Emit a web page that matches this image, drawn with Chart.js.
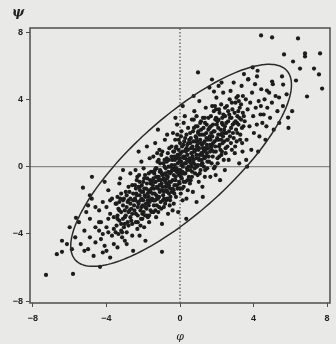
<!DOCTYPE html>
<html>
<head>
  <meta charset="UTF-8">
  <title>Scatter</title>
  <script src="https://cdn.jsdelivr.net/npm/chart.js"></script>
  <style>
    html, body { margin: 0; padding: 0; background: #e9e9e7; }
    canvas { display: block; }
  </style>
</head>
<body>
  <canvas id="grafico" width="336" height="344"></canvas>

  <script>
    const xTicks = [-8, -4, 0, 4, 8];
    const yTicks = [-8, -4, 0, 4, 8];
    const xLabel = 'φ', yLabel = 'ψ';

    // ellipse: centre, semi-axes, angle (data units / degrees)
    const ellCentre = [0.06, 0.08];
    const ellAxes = [8.05, 2.7];
    const ellAngle = 45;

    // points outside / near the ellipse edge
    const outerPts = [
      [4.41,7.80],[5.01,7.68],[6.42,7.62],[5.66,6.67],[6.80,6.73],[6.80,6.55],[7.62,6.73],[6.15,6.25],
      [6.53,5.83],[7.29,5.83],[7.56,5.48],[6.31,5.12],[7.73,4.64],[6.91,4.17],[5.88,2.92],[5.39,4.11],
      [4.73,4.52],[5.01,5.06],[5.55,5.36],[5.61,4.88],[4.19,5.36],[3.70,5.18],[0.98,5.6],[1.74,5.18],
      [1.85,4.46],[2.1,4.8],[3.65,0.0],
      [-7.29,-6.43],[-5.82,-6.37],[-6.42,-4.40],[-6.42,-5.06],[-6.15,-4.6],[-5.88,-4.9],[-6.7,-5.2],
      [-4.79,-0.6],[-5.28,-1.25],[-4.9,-1.7],[-5.0,-2.3],[-5.66,-3.04],[-0.98,-5.06],[-4.35,-5.95],
      [-6.0,-3.6],[-5.7,-4.2]
    ];

    // x below -1.5
    const lowPts = [
      [-5.4,-4.6],[-5.2,-3.8],[-5.0,-4.9],[-4.9,-3.1],[-4.7,-5.3],[-4.6,-2.4],[-5.1,-2.7],[-4.9,-4.2],
      [-5.5,-3.3],[-4.6,-3.6],[-5.2,-5.0],[-4.8,-1.9],[-4.6,-4.5],
      [-4.4,-3.3],[-4.3,-3.3],[-4.2,-2.1],[-4.1,-4.7],[-4.0,-3.6],[-3.9,-1.4],[-3.8,-2.8],[-3.7,-4.1],
      [-3.6,-3.0],[-4.4,-2.6],[-4.3,-4.3],[-4.2,-5.1],[-4.0,-2.4],[-3.9,-3.9],[-3.8,-5.4],[-3.7,-1.9],
      [-3.6,-4.6],[-4.1,-0.9],[-3.5,-2.2],[-4.4,-3.8],[-3.9,-3.1],[-3.6,-3.7],[-4.2,-4.0],[-3.8,-2.0],[-4.0,-5.0],
      [-3.4,-2.9],[-3.3,-1.0],[-3.2,-3.8],[-3.1,-2.3],[-3.0,-4.4],[-2.9,-1.7],[-2.8,-2.7],[-2.7,-0.4],
      [-2.6,-3.4],[-3.4,-4.8],[-3.3,-2.1],[-3.2,-1.6],[-3.1,-3.1],[-3.0,-2.6],[-2.9,-3.9],[-2.8,-1.2],
      [-2.7,-2.2],[-2.6,-4.1],[-3.45,-3.5],[-3.35,-2.5],[-3.25,-0.7],[-3.15,-4.2],[-3.05,-1.9],[-2.95,-2.9],
      [-2.85,-3.3],[-2.75,-1.5],[-2.65,-2.5],[-2.55,-5.0],[-3.4,-1.8],[-3.2,-2.7],[-3.0,-3.4],[-2.8,-2.0],
      [-2.6,-1.1],[-3.1,-0.2],[-2.9,-4.6],[-2.7,-3.0],[-3.3,-3.2],[-2.55,-2.0],
      [-2.45,-1.9],[-2.4,-3.3],[-2.35,-0.8],[-2.3,-2.4],[-2.25,-1.2],[-2.2,-4.1],[-2.15,-2.0],[-2.1,0.3],
      [-2.05,-2.8],[-2.0,-1.5],[-1.95,-3.6],[-1.9,-0.5],[-1.85,-2.2],[-1.8,-1.0],[-1.75,-3.0],[-1.7,-1.8],
      [-1.65,0.5],[-1.6,-2.6],[-1.55,-1.3],[-2.48,-2.6],[-2.42,-0.2],[-2.38,-1.6],[-2.32,-3.7],[-2.28,-2.1],
      [-2.22,-0.5],[-2.18,-1.4],[-2.12,-3.1],[-2.08,-1.1],[-2.02,-2.3],[-1.98,-0.1],[-1.92,-1.7],[-1.88,-4.4],
      [-1.82,-2.5],[-1.78,-0.7],[-1.72,-1.4],[-1.68,-3.3],[-1.62,-2.0],[-1.58,-0.3],[-1.52,-1.9],[-2.4,-1.3],
      [-2.3,-2.9],[-2.2,-1.7],[-2.1,-2.4],[-2.0,-0.9],[-1.9,-2.9],[-1.8,1.2],[-1.7,-2.3],[-1.6,-1.0],
      [-2.25,0.9],[-1.95,-1.3],[-1.75,-2.0],[-2.15,-3.5]
    ];

    // x between -1.5 and 1.5
    const midPts = [
      [-1.48,-1.1],[-1.45,0.6],[-1.42,-2.3],[-1.4,-0.4],[-1.38,-1.6],[-1.35,1.4],[-1.32,-0.9],[-1.3,-3.0],
      [-1.28,-0.1],[-1.25,-1.9],[-1.22,0.3],[-1.2,-1.3],[-1.18,-2.7],[-1.15,-0.6],[-1.12,1.0],[-1.1,-1.5],
      [-1.08,-0.2],[-1.05,-2.1],[-1.02,0.7],[-1.0,-1.0],[-0.98,-3.4],[-0.95,-0.5],[-0.92,-1.7],[-0.9,0.2],
      [-0.88,-2.4],[-0.85,-0.8],[-0.82,1.6],[-0.8,-1.2],[-0.78,-0.1],[-0.75,-2.0],[-0.72,0.5],[-0.7,-0.7],
      [-0.68,-1.5],[-0.65,-2.8],[-0.62,0.0],[-0.6,-1.1],[-0.58,1.1],[-0.55,-0.4],[-0.52,-1.8],[-1.46,-2.0],
      [-1.36,-0.2],[-1.26,-1.2],[-1.16,0.4],[-1.06,-0.8],[-0.96,0.9],[-0.86,-1.9],[-0.76,-0.5],[-0.66,0.8],
      [-0.56,-2.3],[-1.44,-0.7],[-1.34,-2.6],[-1.24,0.8],[-1.14,-1.8],[-1.04,-0.3],[-0.94,-1.4],[-0.84,0.4],
      [-0.74,-1.0],[-0.64,-0.3],[-0.54,-1.3],[-1.3,-0.6],[-0.7,1.9],[-1.2,2.2],
      [-0.48,-0.3],[-0.46,1.2],[-0.44,-1.5],[-0.42,0.4],[-0.4,-0.8],[-0.38,2.0],[-0.36,-0.1],[-0.34,-2.2],
      [-0.32,0.9],[-0.3,-1.1],[-0.28,0.1],[-0.26,1.6],[-0.24,-0.6],[-0.22,-1.8],[-0.2,0.6],[-0.18,-0.3],
      [-0.16,2.5],[-0.14,-1.3],[-0.12,0.2],[-0.1,-2.7],[-0.08,1.0],[-0.06,-0.5],[-0.04,0.7],[-0.02,-1.0],
      [0.0,1.4],[0.02,-0.2],[0.04,-1.6],[0.06,0.3],[0.08,2.1],[0.1,-0.7],[0.12,0.9],[0.14,-2.0],
      [0.16,0.0],[0.18,1.3],[0.2,-1.2],[0.22,0.5],[0.24,-0.4],[0.26,3.0],[0.28,1.7],[0.3,-0.9],
      [0.32,0.2],[0.34,-3.1],[0.36,1.1],[0.38,-0.1],[0.4,0.7],[0.42,-1.4],[0.44,2.3],[0.46,0.4],
      [0.48,-0.6],[-0.45,0.1],[-0.35,-1.4],[-0.25,2.9],[-0.15,0.5],[-0.05,-0.9],[0.05,1.8],[0.15,-0.4],
      [0.25,0.6],[0.35,-1.9],[0.45,1.4],[-0.4,-2.6],[-0.2,1.2],[0.0,-0.4],[0.2,2.6],[0.4,-0.2],
      [-0.3,0.6],[0.1,0.1],[0.3,1.0],[-0.1,-0.2],[0.15,3.6],
      [0.52,0.3],[0.55,2.0],[0.58,-0.8],[0.6,1.1],[0.62,0.0],[0.65,2.8],[0.68,0.6],[0.7,-1.5],
      [0.72,1.5],[0.75,0.2],[0.78,3.3],[0.8,0.9],[0.82,-0.4],[0.85,1.8],[0.88,0.5],[0.9,-2.1],
      [0.92,1.2],[0.95,2.4],[0.98,0.1],[1.0,1.0],[1.02,-0.9],[1.05,3.9],[1.08,0.7],[1.1,1.6],
      [1.12,-0.2],[1.15,2.2],[1.18,0.4],[1.2,1.3],[1.22,-1.2],[1.25,2.9],[1.28,0.9],[1.3,0.0],
      [1.32,1.9],[1.35,-0.6],[1.38,1.1],[1.4,3.5],[1.42,0.6],[1.45,2.5],[1.48,-0.1],[0.56,1.4],
      [0.66,-0.3],[0.76,2.3],[0.86,1.0],[0.96,-0.5],[1.06,1.9],[1.16,0.1],[1.26,1.4],[1.36,2.6],
      [1.46,0.8],[0.54,-1.0],[0.64,0.8],[0.74,4.2],[0.84,0.1],[0.94,1.5],[1.04,0.4],[1.14,2.7],
      [1.24,-1.8],[1.34,0.5],[1.44,1.7],[0.7,0.4],[1.0,2.1],[1.2,0.2],[0.9,3.0]
    ];

    // x above 1.5
    const highPts = [
      [1.52,1.1],[1.55,2.9],[1.58,0.3],[1.62,1.8],[1.65,-0.6],[1.68,2.4],[1.72,1.0],[1.75,3.6],
      [1.78,0.6],[1.82,2.1],[1.85,-0.1],[1.88,1.5],[1.92,2.8],[1.95,0.9],[1.98,4.1],[2.02,1.7],
      [2.05,0.2],[2.08,2.3],[2.12,1.2],[2.15,3.2],[2.18,-0.8],[2.22,1.9],[2.25,0.7],[2.28,2.6],
      [2.32,1.4],[2.35,4.4],[2.38,0.4],[2.42,2.0],[2.45,3.0],[2.48,1.1],[1.54,2.2],[1.64,0.9],
      [1.74,1.3],[1.84,3.3],[1.94,-0.5],[2.04,2.7],[2.14,0.6],[2.24,3.7],[2.34,1.8],[2.44,-0.2],
      [1.6,4.7],[1.7,2.0],[1.8,1.4],[1.9,0.0],[2.0,2.5],[2.1,1.6],[2.2,1.0],[2.3,2.9],
      [2.4,2.2],[1.66,1.6],[2.26,5.0],[1.96,3.4],
      [2.52,2.0],[2.55,3.6],[2.58,1.2],[2.62,2.7],[2.65,0.4],[2.68,3.1],[2.72,1.8],[2.75,4.5],
      [2.78,2.3],[2.82,1.0],[2.85,3.4],[2.88,2.0],[2.92,5.0],[2.95,2.6],[2.98,0.8],[3.02,3.8],
      [3.05,2.2],[3.08,1.5],[3.12,3.0],[3.15,4.2],[3.18,2.5],[3.22,0.2],[3.25,3.5],[3.28,1.9],
      [3.32,2.8],[3.35,4.8],[3.38,1.4],[3.42,3.2],[3.45,2.4],[3.48,5.5],[2.6,1.6],[2.8,2.9],
      [3.0,1.2],[3.2,3.9],[3.4,0.9],[2.7,4.0],[3.1,2.6],
      [3.52,2.7],[3.58,4.0],[3.62,1.6],[3.68,3.4],[3.72,5.2],[3.78,2.4],[3.82,3.8],[3.88,1.0],
      [3.92,4.4],[3.98,3.0],[4.02,2.0],[4.08,4.9],[4.12,3.5],[4.18,2.5],[4.22,5.7],[4.28,3.9],
      [4.32,1.8],[4.38,3.1],[4.42,4.6],[4.48,2.6],[3.6,0.4],[3.95,5.9],[4.25,0.9],[4.4,3.6],
      [4.55,3.1],[4.6,4.0],[4.7,2.4],[4.75,3.5],[4.85,4.4],[4.9,2.9],[5.0,3.8],[5.1,2.2],
      [5.2,4.2],[5.3,3.3],[5.4,2.6],[4.65,1.6],[5.05,4.9],[5.6,3.6],[5.8,4.3],[6.1,3.3],[5.9,2.3]
    ];

    // dense band along the diagonal
    const corePts = [
      [-3.5,-3.9],[-3.4,-3.1],[-3.3,-2.6],[-3.2,-3.4],[-3.1,-2.0],[-3.0,-3.0],[-2.9,-2.4],[-2.8,-3.5],
      [-2.7,-1.9],[-2.6,-2.8],[-3.45,-2.2],[-3.15,-3.9],[-2.85,-2.1],[-2.65,-3.2],[-3.35,-4.0],[-2.95,-1.5],
      [-2.75,-2.6],[-3.05,-3.6],[-2.55,-1.6],[-3.25,-1.9],
      [-2.5,-2.3],[-2.45,-1.1],[-2.4,-2.8],[-2.35,-1.7],[-2.3,-3.3],[-2.25,-2.2],[-2.2,-0.9],[-2.15,-2.6],
      [-2.1,-1.5],[-2.05,-3.1],[-2.0,-2.0],[-1.95,-0.7],[-1.9,-2.4],[-1.85,-1.3],[-1.8,-2.9],[-1.75,-1.6],
      [-1.7,-0.4],[-1.65,-2.1],[-1.6,-1.5],[-1.55,-2.7],[-2.42,-2.0],[-2.18,-1.2],[-1.98,-2.7],[-1.78,-2.2],
      [-1.62,-0.8],[-2.32,-0.6],[-2.08,-1.9],[-1.88,-1.8],[-1.68,-2.9],[-1.52,-0.9],
      [-1.5,-1.6],[-1.47,-0.3],[-1.44,-2.7],[-1.41,-1.3],[-1.38,-0.9],[-1.35,-2.0],[-1.32,-0.1],[-1.29,-1.7],
      [-1.26,-2.3],[-1.23,-0.6],[-1.2,-1.9],[-1.17,-0.8],[-1.14,-2.4],[-1.11,-1.1],[-1.08,0.2],[-1.05,-1.4],
      [-1.02,-2.5],[-0.99,-0.4],[-0.96,-1.2],[-0.93,-2.0],[-0.9,-0.7],[-0.87,-1.5],[-0.84,0.0],[-0.81,-2.2],
      [-0.78,-0.9],[-0.75,-1.4],[-0.72,0.3],[-0.69,-1.9],[-0.66,-0.6],[-0.63,-1.2],[-0.6,0.4],[-0.57,-0.9],
      [-0.54,-2.0],[-0.51,0.0],[-1.4,-2.0],[-1.1,-0.3],[-0.8,-0.4],[-0.6,-1.6],
      [-0.49,-0.9],[-0.46,0.6],[-0.43,-0.2],[-0.4,-1.3],[-0.37,0.9],[-0.34,-0.5],[-0.31,-1.6],[-0.28,0.4],
      [-0.25,-0.8],[-0.22,1.1],[-0.19,-0.1],[-0.16,-1.1],[-0.13,0.7],[-0.1,-0.4],[-0.07,1.6],[-0.04,0.3],
      [-0.01,-1.3],[0.02,0.8],[0.05,-0.6],[0.08,0.1],[0.11,1.2],[0.14,-0.3],[0.17,0.6],[0.2,-0.9],
      [0.23,1.5],[0.26,0.2],[0.29,-0.4],[0.32,0.9],[0.35,1.9],[0.38,0.4],[0.41,-0.8],[0.44,1.0],
      [0.47,0.0],[0.5,1.6],[-0.3,-0.2],[0.0,0.5],[0.3,0.5],[-0.15,1.9],[0.12,-1.3],[0.4,1.3],
      [0.53,0.5],[0.56,-0.2],[0.59,1.7],[0.62,0.8],[0.65,-0.6],[0.68,1.2],[0.71,2.1],[0.74,0.4],
      [0.77,1.0],[0.8,-0.1],[0.83,1.5],[0.86,2.4],[0.89,0.7],[0.92,0.0],[0.95,1.3],[0.98,2.0],
      [1.01,0.5],[1.04,1.1],[1.07,-0.4],[1.1,2.6],[1.13,1.4],[1.16,0.8],[1.19,1.9],[1.22,0.2],
      [1.25,1.1],[1.28,2.3],[1.31,0.6],[1.34,1.5],[1.37,-0.2],[1.4,1.0],[1.43,2.0],[1.46,1.3],
      [1.49,0.3],[0.6,0.2],[0.9,1.7],[1.2,0.7],[1.35,2.9],[0.75,2.8],
      [1.52,1.6],[1.56,0.6],[1.6,2.3],[1.64,1.3],[1.68,3.0],[1.72,0.2],[1.76,1.8],[1.8,2.5],
      [1.84,0.9],[1.88,2.1],[1.92,1.2],[1.96,2.9],[2.0,1.6],[2.04,0.5],[2.08,1.9],[2.12,3.4],
      [2.16,1.3],[2.2,2.2],[2.24,1.6],[2.28,0.9],[2.32,2.5],[2.36,3.1],[2.4,1.5],[2.44,2.4],
      [2.48,0.8],[1.7,1.2],[1.9,3.6],[2.1,2.8],[2.3,2.0],[2.45,3.5],
      [2.52,2.6],[2.57,1.6],[2.62,3.3],[2.67,2.1],[2.72,2.9],[2.77,1.4],[2.82,3.8],[2.87,2.5],
      [2.92,1.7],[2.97,3.2],[3.02,2.7],[3.07,4.1],[3.12,2.0],[3.17,3.3],[3.22,2.9],[3.27,1.6],
      [3.32,3.7],[3.37,2.3],[3.42,4.2],[3.47,3.0]
    ];

    const allPts = outerPts.concat(lowPts, midPts, highPts, corePts);

    const frameColor = '#4d4d4d';

    const extras = {
      id: 'extras',
      afterDatasetsDraw(chart) {
        const { ctx, chartArea: a, scales: { x, y } } = chart;
        ctx.save();
        // ellipse through the scales
        const th = ellAngle * Math.PI / 180;
        ctx.beginPath();
        for (let i = 0; i <= 180; i++) {
          const t = i / 180 * 2 * Math.PI;
          const u = ellAxes[0] * Math.cos(t), v = ellAxes[1] * Math.sin(t);
          const dx = ellCentre[0] + u * Math.cos(th) - v * Math.sin(th);
          const dy = ellCentre[1] + u * Math.sin(th) + v * Math.cos(th);
          const px = x.getPixelForValue(dx), py = y.getPixelForValue(dy);
          if (i === 0) ctx.moveTo(px, py); else ctx.lineTo(px, py);
        }
        ctx.strokeStyle = '#2a2a2a';
        ctx.lineWidth = 1.5;
        ctx.stroke();
        // frame
        ctx.strokeStyle = frameColor;
        ctx.lineWidth = 1.5;
        ctx.strokeRect(a.left, a.top, a.right - a.left, a.bottom - a.top);
        // axis titles
        ctx.fillStyle = '#222';
        ctx.font = 'italic bold 13px "DejaVu Serif"';
        ctx.textAlign = 'center';
        ctx.textBaseline = 'middle';
        ctx.fillText(yLabel, 18, 13);
        ctx.font = 'italic 11px "DejaVu Serif"';
        ctx.fillText(xLabel, x.getPixelForValue(0), 337);
        ctx.restore();
      }
    };

    const ctx = document.getElementById('grafico').getContext('2d');
    new Chart(ctx, {
      type: 'scatter',
      data: {
        datasets: [
          {
            type: 'line', data: [{ x: 0, y: -8.1 }, { x: 0, y: 8.24 }],
            borderColor: '#333', borderWidth: 1, borderDash: [1.5, 2], pointRadius: 0, order: 3
          },
          {
            type: 'line', data: [{ x: -8.16, y: 0 }, { x: 8.16, y: 0 }],
            borderColor: '#8a8a8a', borderWidth: 1.2, pointRadius: 0, order: 3
          },
          {
            data: allPts.map(p => ({ x: p[0], y: p[1] })),
            backgroundColor: '#1c1c1c', borderWidth: 0, pointRadius: 2.1, order: 1
          }
        ]
      },
      options: {
        responsive: false,
        animation: false,
        layout: { padding: { top: 28, right: 6, left: 0, bottom: 0 } },
        plugins: { legend: { display: false }, tooltip: { enabled: false } },
        scales: {
          x: {
            type: 'linear', min: -8.16, max: 8.16,
            afterBuildTicks: s => { s.ticks = xTicks.map(v => ({ value: v })); },
            afterFit: s => { s.height = 41; },
            grid: { drawOnChartArea: false, drawTicks: true, tickLength: 4, color: frameColor },
            border: { display: false },
            ticks: { color: '#222', font: { size: 9, weight: 'bold', family: 'Liberation Sans' }, padding: 6, maxRotation: 0,
              callback: v => String(v).replace('-', '−') }
          },
          y: {
            type: 'linear', min: -8.1, max: 8.24,
            afterBuildTicks: s => { s.ticks = yTicks.map(v => ({ value: v })); },
            afterFit: s => { s.width = 30; },
            grid: { drawOnChartArea: false, drawTicks: true, tickLength: 4, color: frameColor },
            border: { display: false },
            ticks: { color: '#222', font: { size: 9, weight: 'bold', family: 'Liberation Sans' }, padding: 3,
              callback: v => String(v).replace('-', '−') }
          }
        }
      },
      plugins: [extras]
    });
  </script>
</body>
</html>
